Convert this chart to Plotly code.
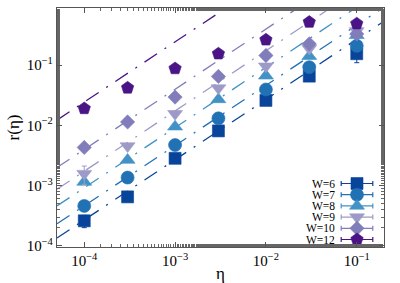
import plotly.graph_objects as go

# ---- data ----
eta = [1e-4, 3e-4, 1e-3, 3e-3, 1e-2, 3e-2, 1e-1]
labels = ["W=6", "W=7", "W=8", "W=9", "W=10", "W=12"]
r_W6 = [0.00026, 0.00065, 0.00284, 0.0081, 0.026, 0.0658, 0.155]
r_W7 = [0.00046, 0.00136, 0.00472, 0.0131, 0.0395, 0.0927, 0.21]
r_W8 = [0.00115, 0.00266, 0.0095, 0.027, 0.0667, 0.141, 0.314]
r_W9 = [0.00158, 0.00454, 0.0156, 0.0416, 0.096, 0.19, 0.37]
r_W10 = [0.0043, 0.0114, 0.0295, 0.065, 0.145, 0.226, 0.33]
r_W12 = [0.0191, 0.042, 0.088, 0.155, 0.264, 0.52, 0.49]
err_W6 = [0.00006, 0.00005, 0.0002, 0.0005, 0.0015, 0.004, 0.045]
err_W7 = [0.00003, 0.00008, 0.0003, 0.0008, 0.002, 0.005, 0.02]
err_W8 = [0.0001, 0.0002, 0.0006, 0.0015, 0.004, 0.008, 0.02]
err_W9 = [0.00053, 0.0003, 0.001, 0.002, 0.005, 0.01, 0.02]
err_W10 = [0.0003, 0.0006, 0.0015, 0.003, 0.008, 0.012, 0.02]
err_W12 = [0.001, 0.002, 0.004, 0.008, 0.012, 0.02, 0.03]
# linear fits r = c * eta  (log10 c)
fit_logc = [0.43, 0.665, 0.963, 1.24, 1.60, 2.388]
fit_eta = [10 ** -4.3, 10 ** -0.7]
tick_vals = [1e-4, 1e-3, 1e-2, 1e-1]
tick_text = ["10<sup>−4</sup>", "10<sup>−3</sup>", "10<sup>−2</sup>", "10<sup>−1</sup>"]

series = [r_W6, r_W7, r_W8, r_W9, r_W10, r_W12]
errors = [err_W6, err_W7, err_W8, err_W9, err_W10, err_W12]
colors = ["#08449a", "#2171b5", "#4292c6", "#9e9ac8", "#807dba", "#4a1486"]
symbols = ["square", "circle", "triangle-up", "triangle-down", "diamond", "pentagon"]
sizes = [12, 13, 13, 13, 11, 13]

SERIF = "Liberation Serif, DejaVu Serif, serif"

fig = go.Figure()

# fit lines
for lc, col in zip(fit_logc, colors):
    fig.add_trace(go.Scatter(
        x=fit_eta, y=[10 ** lc * v for v in fit_eta], mode="lines",
        line=dict(color=col, width=1.3, dash="15px,9px,2px,9px"),
        showlegend=False, hoverinfo="skip"))

# data markers
for ys, es, col, sym, sz in zip(series, errors, colors, symbols, sizes):
    fig.add_trace(go.Scatter(
        x=eta, y=ys, mode="markers",
        marker=dict(symbol=sym, size=sz, color=col, line=dict(width=0.6, color=col)),
        error_y=dict(type="data", array=es, visible=True, color=col, thickness=1, width=2.5),
        showlegend=False))

# custom legend (text left of symbol) on a pixel-like overlay axis
leg_x_marker = 357
leg_x_text = 337
leg_y0 = 183.5
leg_dy = 11.2
leg_half = 15.8
for i, (lab, col, sym, sz) in enumerate(zip(labels, colors, symbols, sizes)):
    yy = leg_y0 + i * leg_dy
    fig.add_trace(go.Scatter(
        x=[leg_x_marker], y=[yy], xaxis="x2", yaxis="y2", mode="markers",
        marker=dict(symbol=sym, size=sz, color=col, line=dict(width=0.6, color=col)),
        error_x=dict(type="constant", value=leg_half, visible=True, color=col, thickness=1.2, width=2.5),
        showlegend=False, hoverinfo="skip"))
    fig.add_annotation(x=leg_x_text, y=yy, xref="x2", yref="y2", text=lab,
                       showarrow=False, xanchor="right", yanchor="middle",
                       font=dict(family=SERIF, size=11.5, color="black"))

axis_common = dict(
    type="log", showgrid=False, zeroline=False, showline=True, linecolor="#555",
    linewidth=1.3, mirror="allticks", ticks="inside", ticklen=5, tickwidth=1,
    tickcolor="#555", automargin=False,
    tickfont=dict(family=SERIF, size=15, color="black"),
    minor=dict(ticks="inside", ticklen=2.5, tickwidth=0.8, tickcolor="#666", showgrid=False),
)

fig.update_layout(
    width=400, height=283,
    margin=dict(l=57, r=16, t=8, b=36),
    paper_bgcolor="white", plot_bgcolor="white",
    xaxis=dict(**axis_common, range=[-4.3, -0.7],
               tickvals=tick_vals, ticktext=tick_text,
               title=dict(text="η", font=dict(family=SERIF, size=17, color="black"), standoff=0)),
    yaxis=dict(**axis_common, range=[-4.02, -0.05],
               tickvals=tick_vals, ticktext=tick_text,
               title=dict(text="r(η)", font=dict(family=SERIF, size=17, color="black"), standoff=2)),
    xaxis2=dict(overlaying="x", range=[57, 384], visible=False, fixedrange=True),
    yaxis2=dict(overlaying="y", range=[247, 8], visible=False, fixedrange=True),
    showlegend=False,
)

fig.write_html("out.html", config={"displayModeBar": False},
               post_script="document.body.style.margin='0';document.body.style.padding='0';")
